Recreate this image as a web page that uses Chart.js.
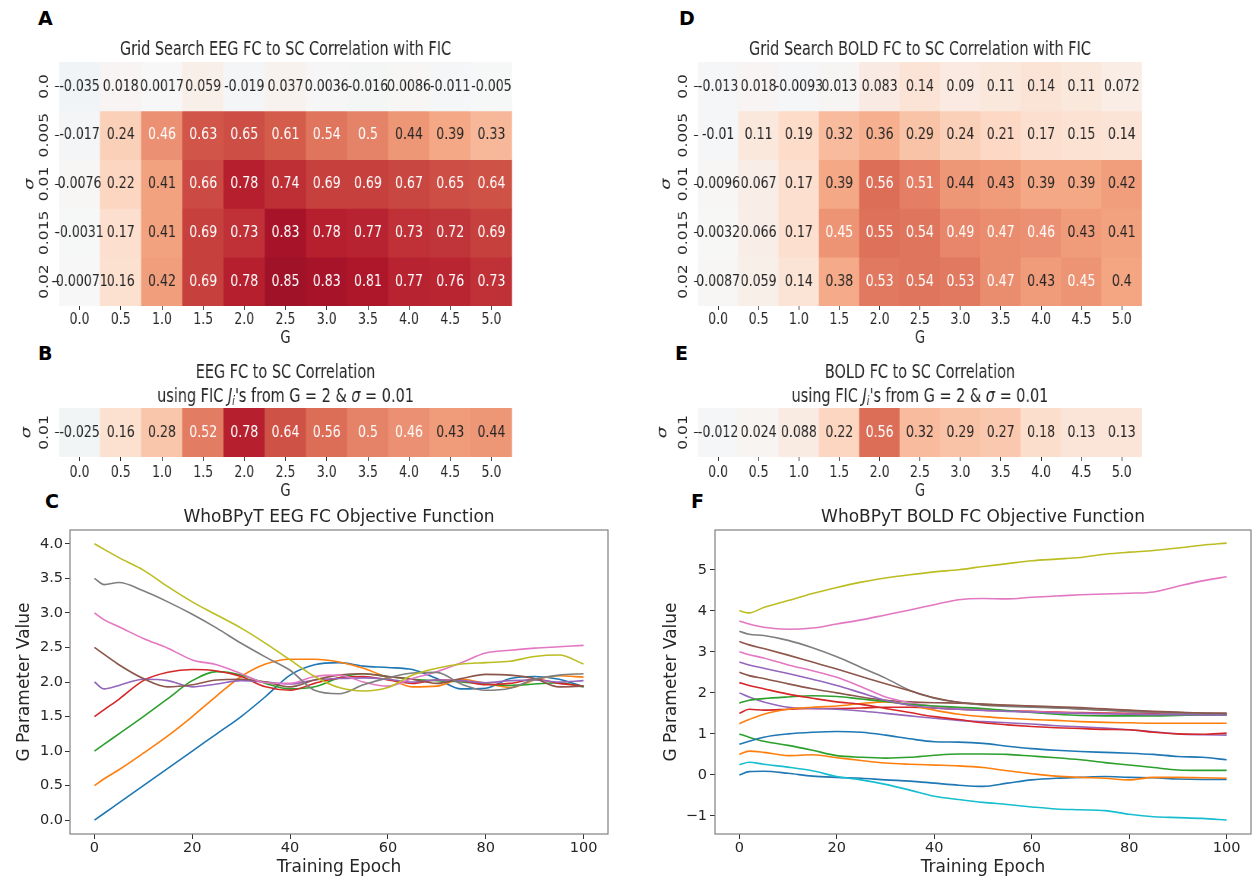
<!DOCTYPE html>
<html>
<head>
<meta charset="utf-8">
<title>WhoBPyT FIC grid search</title>
<script src="https://cdn.jsdelivr.net/npm/chart.js@4.4.1/dist/chart.umd.min.js"></script>
<style>
  html, body { margin: 0; padding: 0; background: #fff; }
  body { position: relative; width: 1254px; height: 878px; overflow: hidden; font-family: "DejaVu Sans", sans-serif; }
  canvas { position: absolute; }
  /* heatmap panels are drawn wide and squeezed horizontally */
  canvas.heat { transform: scaleX(0.76); transform-origin: 0 0; }
  .tag { position: absolute; font: bold 19px/19px "DejaVu Sans", sans-serif; color: #000; }
</style>
</head>
<body>
<div class="tag" style="left:38px;top:9px">A</div>
<div class="tag" style="left:38px;top:344px">B</div>
<div class="tag" style="left:45px;top:492px">C</div>
<div class="tag" style="left:679px;top:9px">D</div>
<div class="tag" style="left:675px;top:344px">E</div>
<div class="tag" style="left:691px;top:492px">F</div>

<canvas id="gridEeg" class="heat" width="816" height="324" style="left:0;top:28px"></canvas>
<canvas id="gridBold" class="heat" width="834" height="324" style="left:620px;top:28px"></canvas>
<canvas id="fixedEeg" class="heat" width="816" height="156" style="left:0;top:346px"></canvas>
<canvas id="fixedBold" class="heat" width="834" height="156" style="left:620px;top:346px"></canvas>
<canvas id="fitEeg" width="620" height="398" style="left:0;top:480px"></canvas>
<canvas id="fitBold" width="634" height="398" style="left:620px;top:480px"></canvas>

<script>
// ---- grid axes ----
const gValues = ['0.0', '0.5', '1.0', '1.5', '2.0', '2.5', '3.0', '3.5', '4.0', '4.5', '5.0'];
const sigmaGrid = ['0.0', '0.005', '0.01', '0.015', '0.02'];
const sigmaFixed = ['0.01'];

// EEG FC-SC correlation, one row per sigma
const eegS0 = [-0.035, 0.018, 0.0017, 0.059, -0.019, 0.037, 0.0036, -0.016, 0.0086, -0.011, -0.005];
const eegS005 = [-0.017, 0.24, 0.46, 0.63, 0.65, 0.61, 0.54, 0.5, 0.44, 0.39, 0.33];
const eegS01 = [0.0076, 0.22, 0.41, 0.66, 0.78, 0.74, 0.69, 0.69, 0.67, 0.65, 0.64];
const eegS015 = [-0.0031, 0.17, 0.41, 0.69, 0.73, 0.83, 0.78, 0.77, 0.73, 0.72, 0.69];
const eegS02 = [-0.00071, 0.16, 0.42, 0.69, 0.78, 0.85, 0.83, 0.81, 0.77, 0.76, 0.73];

// BOLD FC-SC correlation, one row per sigma
const boldS0 = [-0.013, 0.018, -0.0093, 0.013, 0.083, 0.14, 0.09, 0.11, 0.14, 0.11, 0.072];
const boldS005 = [-0.01, 0.11, 0.19, 0.32, 0.36, 0.29, 0.24, 0.21, 0.17, 0.15, 0.14];
const boldS01 = [0.0096, 0.067, 0.17, 0.39, 0.56, 0.51, 0.44, 0.43, 0.39, 0.39, 0.42];
const boldS015 = [0.0032, 0.066, 0.17, 0.45, 0.55, 0.54, 0.49, 0.47, 0.46, 0.43, 0.41];
const boldS02 = [0.0087, 0.059, 0.14, 0.38, 0.53, 0.54, 0.53, 0.47, 0.43, 0.45, 0.4];

// correlation with the J_i's fitted at G = 2, sigma = 0.01
const eegFixed = [-0.025, 0.16, 0.28, 0.52, 0.78, 0.64, 0.56, 0.5, 0.46, 0.43, 0.44];
const boldFixed = [-0.012, 0.024, 0.088, 0.22, 0.56, 0.32, 0.29, 0.27, 0.18, 0.13, 0.13];

// ---- G trajectories over training ----
const epochs = [0, 2, 5, 10, 15, 20, 25, 30, 35, 40, 45, 50, 55, 60, 65, 70, 75, 80, 85, 90, 95, 100];

const eegFit00 = [0, 0.1, 0.25, 0.5, 0.75, 1.0, 1.25, 1.5, 1.79, 2.1, 2.25, 2.28, 2.23, 2.21, 2.18, 2.05, 1.9, 1.91, 2.05, 2.08, 2.04, 1.93];
const eegFit05 = [0.5, 0.6, 0.73, 0.97, 1.22, 1.5, 1.8, 2.08, 2.26, 2.33, 2.33, 2.29, 2.2, 2.06, 1.93, 1.94, 2.04, 1.98, 1.92, 2.03, 2.09, 2.07];
const eegFit10 = [1.0, 1.1, 1.25, 1.5, 1.76, 2.02, 2.15, 2.1, 1.98, 1.9, 1.93, 2.06, 2.12, 2.08, 2.04, 2.02, 2.0, 1.97, 1.95, 1.97, 1.99, 1.93];
const eegFit15 = [1.5, 1.6, 1.75, 2.02, 2.14, 2.18, 2.16, 2.08, 1.93, 1.88, 1.98, 2.06, 2.08, 2.03, 1.98, 2.03, 2.02, 1.96, 1.98, 2.04, 1.98, 1.94];
const eegFit20 = [2.0, 1.9, 1.95, 2.04, 2.02, 1.93, 1.97, 2.02, 2.0, 1.97, 2.03, 2.05, 2.06, 2.04, 2.0, 2.03, 2.02, 1.99, 2.02, 2.03, 2.0, 2.02];
const eegFit25 = [2.5, 2.4, 2.25, 2.05, 1.93, 1.96, 2.03, 2.04, 2.0, 1.93, 2.03, 2.1, 2.12, 2.08, 2.04, 1.98, 2.05, 2.11, 2.1, 2.05, 1.93, 1.94];
const eegFit30 = [3.0, 2.9, 2.8, 2.63, 2.49, 2.32, 2.25, 2.12, 1.99, 1.98, 2.08, 2.1, 2.0, 1.94, 2.05, 2.15, 2.28, 2.42, 2.46, 2.49, 2.51, 2.53];
const eegFit35 = [3.5, 3.41, 3.44, 3.32, 3.16, 2.98, 2.78, 2.56, 2.36, 2.17, 1.88, 1.83, 1.96, 2.06, 2.13, 2.14, 1.97, 1.88, 1.91, 2.04, 2.1, 2.12];
const eegFit40 = [4.0, 3.92, 3.8, 3.62, 3.38, 3.16, 2.97, 2.78, 2.56, 2.32, 2.08, 1.92, 1.87, 1.92, 2.1, 2.2, 2.26, 2.28, 2.3, 2.37, 2.39, 2.26];

const boldFit000 = [0.0, 0.08, 0.09, 0.04, -0.03, -0.06, -0.08, -0.12, -0.15, -0.2, -0.25, -0.28, -0.2, -0.12, -0.08, -0.06, -0.04, -0.06, -0.07, -0.1, -0.11, -0.11];
const boldFit050 = [0.5, 0.58, 0.55, 0.47, 0.49, 0.42, 0.35, 0.29, 0.26, 0.24, 0.22, 0.18, 0.1, 0.03, -0.03, -0.06, -0.08, -0.12, -0.06, -0.06, -0.07, -0.08];
const boldFit100 = [1.0, 0.92, 0.82, 0.72, 0.6, 0.47, 0.43, 0.41, 0.43, 0.48, 0.51, 0.51, 0.5, 0.46, 0.42, 0.37, 0.3, 0.24, 0.18, 0.12, 0.11, 0.11];
const boldFit150 = [1.5, 1.6, 1.58, 1.6, 1.62, 1.62, 1.63, 1.65, 1.65, 1.63, 1.6, 1.58, 1.56, 1.55, 1.53, 1.52, 1.51, 1.5, 1.49, 1.48, 1.48, 1.47];
const boldFit200 = [2.0, 1.9, 1.78, 1.65, 1.62, 1.6, 1.56, 1.5, 1.44, 1.38, 1.33, 1.3, 1.27, 1.24, 1.2, 1.17, 1.14, 1.1, 1.05, 1.0, 0.98, 0.97];
const boldFit250 = [2.5, 2.42, 2.35, 2.22, 2.1, 2.0, 1.9, 1.82, 1.78, 1.76, 1.75, 1.73, 1.7, 1.67, 1.64, 1.61, 1.58, 1.55, 1.53, 1.51, 1.5, 1.5];
const boldFit300 = [3.0, 2.93, 2.85, 2.68, 2.54, 2.38, 2.15, 1.9, 1.76, 1.67, 1.62, 1.58, 1.56, 1.54, 1.52, 1.5, 1.49, 1.48, 1.47, 1.46, 1.46, 1.46];
const boldFit350 = [3.5, 3.43, 3.4, 3.28, 3.1, 2.88, 2.62, 2.36, 2.06, 1.87, 1.77, 1.7, 1.67, 1.65, 1.63, 1.61, 1.58, 1.55, 1.53, 1.51, 1.5, 1.49];
const boldFit400 = [4.0, 3.95, 4.08, 4.25, 4.42, 4.57, 4.7, 4.8, 4.88, 4.95, 5.0, 5.08, 5.15, 5.22, 5.26, 5.3, 5.38, 5.43, 5.47, 5.53, 5.6, 5.65];
const boldFit025 = [0.25, 0.31, 0.26, 0.19, 0.1, -0.04, -0.12, -0.23, -0.37, -0.52, -0.6, -0.67, -0.72, -0.78, -0.83, -0.85, -0.87, -0.96, -1.02, -1.04, -1.06, -1.1];
const boldFit075 = [0.75, 0.82, 0.92, 1.0, 1.04, 1.06, 1.04, 0.97, 0.88, 0.81, 0.8, 0.77, 0.7, 0.64, 0.6, 0.57, 0.55, 0.53, 0.5, 0.45, 0.43, 0.37];
const boldFit125 = [1.25, 1.35, 1.48, 1.6, 1.65, 1.68, 1.74, 1.78, 1.7, 1.58, 1.48, 1.42, 1.38, 1.35, 1.33, 1.3, 1.28, 1.27, 1.26, 1.26, 1.26, 1.26];
const boldFit175 = [1.75, 1.82, 1.86, 1.9, 1.93, 1.91, 1.85, 1.79, 1.72, 1.68, 1.65, 1.62, 1.57, 1.52, 1.48, 1.45, 1.44, 1.44, 1.44, 1.45, 1.46, 1.46];
const boldFit225 = [2.25, 2.18, 2.1, 1.97, 1.87, 1.78, 1.72, 1.62, 1.52, 1.42, 1.35, 1.27, 1.22, 1.18, 1.15, 1.13, 1.11, 1.1, 1.04, 1.0, 0.99, 1.02];
const boldFit275 = [2.75, 2.68, 2.6, 2.47, 2.33, 2.18, 2.0, 1.82, 1.7, 1.63, 1.6, 1.57, 1.55, 1.53, 1.51, 1.5, 1.49, 1.48, 1.47, 1.47, 1.46, 1.46];
const boldFit325 = [3.25, 3.17, 3.08, 2.92, 2.75, 2.58, 2.4, 2.22, 2.05, 1.88, 1.77, 1.72, 1.7, 1.68, 1.66, 1.64, 1.61, 1.58, 1.55, 1.53, 1.51, 1.5];
const boldFit375 = [3.75, 3.68, 3.6, 3.55, 3.58, 3.68, 3.78, 3.9, 4.02, 4.15, 4.27, 4.3, 4.29, 4.33, 4.36, 4.39, 4.41, 4.43, 4.46, 4.6, 4.73, 4.83];

const epochTicks = [0, 20, 40, 60, 80, 100];
const eegTicksY = [0, 0.5, 1, 1.5, 2, 2.5, 3, 3.5, 4];
const boldTicksY = [-1, 0, 1, 2, 3, 4, 5];

// ---- styling ----
const FONT = '"DejaVu Sans", sans-serif';
const INK = '#262626';
const TAB10 = ['#1f77b4', '#ff7f0e', '#2ca02c', '#d62728', '#9467bd', '#8c564b', '#e377c2', '#7f7f7f', '#bcbd22', '#17becf'];
const RDBU_R = ['#053061', '#2166ac', '#4393c3', '#92c5de', '#d1e5f0', '#f7f7f7', '#fddbc7', '#f4a582', '#d6604d', '#b2182b', '#67001f'];

function hexRgb(h) {
  return [1, 3, 5].map(i => parseInt(h.slice(i, i + 2), 16));
}

// diverging map, vmin -1 / vmax 1
function cellRgb(v) {
  const t = Math.min(1, Math.max(0, (v + 1) / 2)) * 10;
  const i = Math.min(9, Math.floor(t));
  const f = t - i;
  const a = hexRgb(RDBU_R[i]), b = hexRgb(RDBU_R[i + 1]);
  return a.map((c, k) => Math.round(c + (b[k] - c) * f));
}

function cellColor(v) {
  const [r, g, b] = cellRgb(v);
  return `rgb(${r},${g},${b})`;
}

// white text on dark cells, same rule as seaborn
function textColor(v) {
  const lin = cellRgb(v).map(c => {
    c /= 255;
    return c <= 0.03928 ? c / 12.92 : Math.pow((c + 0.055) / 1.055, 2.4);
  });
  const lum = 0.2126 * lin[0] + 0.7152 * lin[1] + 0.0722 * lin[2];
  return lum > 0.408 ? INK : '#ffffff';
}

const fmt2g = v => String(Number(v.toPrecision(2)));

// value written in the middle of every cell
function cellText(rows) {
  return {
    id: 'cellText',
    afterDatasetsDraw(chart) {
      const ctx = chart.ctx;
      ctx.save();
      ctx.font = `16.5px ${FONT}`;
      ctx.textAlign = 'center';
      ctx.textBaseline = 'middle';
      rows.forEach((vals, r) => {
        chart.getDatasetMeta(r).data.forEach((bar, c) => {
          ctx.fillStyle = textColor(vals[c]);
          ctx.fillText(fmt2g(vals[c]), bar.x, (bar.y + bar.base) / 2);
        });
      });
      ctx.restore();
    }
  };
}

// sigma tick labels, turned upright like the axis title
function sideTicks(labels, gap) {
  return {
    id: 'sideTicks',
    afterDraw(chart) {
      const ctx = chart.ctx, y = chart.scales.y;
      const x = chart.chartArea.left - gap;
      ctx.save();
      ctx.font = `15.5px ${FONT}`;
      ctx.fillStyle = INK;
      ctx.textAlign = 'center';
      ctx.textBaseline = 'middle';
      y.ticks.forEach((t, i) => {
        ctx.save();
        ctx.translate(x, y.getPixelForTick(i));
        ctx.rotate(-Math.PI / 2);
        ctx.fillText(labels[i], 0, 0);
        ctx.restore();
      });
      ctx.restore();
    }
  };
}

// two-line title with italic J_i and sigma
function richTitle(lines) {
  const segFont = s => `${s.it ? 'italic ' : ''}${s.sub ? 13 : 19}px ${FONT}`;
  return {
    id: 'richTitle',
    afterDraw(chart) {
      const { ctx, chartArea } = chart;
      const cx = (chartArea.left + chartArea.right) / 2;
      ctx.save();
      ctx.fillStyle = INK;
      ctx.textAlign = 'left';
      ctx.textBaseline = 'middle';
      lines.forEach((segs, li) => {
        const y = chartArea.top - 35 + li * 24;
        const widths = segs.map(s => { ctx.font = segFont(s); return ctx.measureText(s.t).width; });
        let x = cx - widths.reduce((a, b) => a + b, 0) / 2;
        segs.forEach((s, i) => {
          ctx.font = segFont(s);
          ctx.fillText(s.t, x, y + (s.sub ? 5 : 0));
          x += widths[i];
        });
      });
      ctx.restore();
    }
  };
}

function heatmap(id, rows, rowLabels, geo) {
  new Chart(document.getElementById(id), {
    type: 'bar',
    data: {
      labels: gValues,
      datasets: rows.map((vals, r) => ({
        data: vals.map(() => [r, r + 1]),
        backgroundColor: vals.map(cellColor),
        grouped: false,
        barPercentage: 1,
        categoryPercentage: 1,
        borderWidth: 0
      }))
    },
    options: {
      responsive: false,
      animation: false,
      events: [],
      layout: { padding: { top: geo.top, right: geo.right, left: 0, bottom: 0 } },
      plugins: {
        legend: { display: false },
        tooltip: { enabled: false },
        title: geo.title ? {
          display: true, text: geo.title, fullSize: false, color: INK,
          font: { family: FONT, size: 19, weight: 'normal', lineHeight: 1.2 },
          padding: { top: 10.6, bottom: 0.6 }
        } : { display: false }
      },
      scales: {
        x: {
          grid: { offset: false, drawOnChartArea: false, drawTicks: true, tickLength: 4, color: INK },
          border: { display: false },
          ticks: { color: INK, font: { family: FONT, size: 16.5, lineHeight: 1 }, padding: geo.tickPad, maxRotation: 0, autoSkip: false },
          title: { display: true, text: 'G', color: INK, font: { family: FONT, size: 17, lineHeight: 1 }, padding: { top: 0, bottom: geo.gPad } },
          afterFit: s => { s.height = geo.xh; }
        },
        y: {
          type: 'linear',
          min: 0,
          max: rows.length,
          reverse: true,
          afterBuildTicks: s => { s.ticks = rowLabels.map((_, i) => ({ value: i + 0.5 })); },
          grid: { drawOnChartArea: false, drawTicks: true, tickLength: 5.3, color: INK },
          border: { display: false },
          ticks: { display: false },
          title: { display: true, text: 'σ', color: INK, font: { family: FONT, size: 18, style: 'italic', lineHeight: 1 }, padding: { top: geo.sigmaPad, bottom: 0 } },
          afterFit: s => { s.width = geo.yw; }
        }
      }
    },
    plugins: [cellText(rows), sideTicks(rowLabels, 19.1)].concat(geo.rich ? [richTitle(geo.rich)] : [])
  });
}

// box around the line plots
const frame = {
  id: 'frame',
  afterDraw(chart) {
    const { ctx, chartArea: a } = chart;
    ctx.save();
    ctx.strokeStyle = '#808080';
    ctx.lineWidth = 1.2;
    ctx.strokeRect(a.left, a.top, a.right - a.left, a.bottom - a.top);
    ctx.restore();
  }
};

function fitChart(id, series, title, yMin, yMax, yTicks, yFmt, geo) {
  new Chart(document.getElementById(id), {
    type: 'line',
    data: {
      datasets: series.map((vals, i) => ({
        data: vals.map((v, j) => ({ x: epochs[j], y: v })),
        borderColor: TAB10[i % 10],
        borderWidth: 1.6,
        pointRadius: 0,
        cubicInterpolationMode: 'monotone',
        fill: false,
        order: series.length - i
      }))
    },
    options: {
      responsive: false,
      animation: false,
      events: [],
      layout: { padding: { top: 0, right: geo.right, left: 0, bottom: 0 } },
      plugins: {
        legend: { display: false },
        tooltip: { enabled: false },
        title: {
          display: true, text: title, fullSize: false, color: INK,
          font: { family: FONT, size: 17, weight: 'normal', lineHeight: 1.2 },
          padding: { top: 27.8, bottom: 1.8 }
        }
      },
      scales: {
        x: {
          type: 'linear',
          min: -5,
          max: 105,
          afterBuildTicks: s => { s.ticks = epochTicks.map(v => ({ value: v })); },
          grid: { drawOnChartArea: false, drawTicks: true, tickLength: 5, color: '#333' },
          border: { display: false },
          ticks: { color: INK, font: { family: FONT, size: 14.5, lineHeight: 1 }, padding: 1.5, maxRotation: 0, callback: v => String(v) },
          title: { display: true, text: 'Training Epoch', color: INK, font: { family: FONT, size: 17, lineHeight: 1 }, padding: { top: 0, bottom: 1.5 } },
          afterFit: s => { s.height = 44; }
        },
        y: {
          type: 'linear',
          min: yMin,
          max: yMax,
          afterBuildTicks: s => { s.ticks = yTicks.map(v => ({ value: v })); },
          grid: { drawOnChartArea: false, drawTicks: true, tickLength: 5, color: '#333' },
          border: { display: false },
          ticks: { color: INK, font: { family: FONT, size: 14.5, lineHeight: 1 }, padding: geo.tickPad, callback: yFmt },
          title: { display: true, text: 'G Parameter Value', color: INK, font: { family: FONT, size: 17, lineHeight: 1 }, padding: { top: geo.titlePad, bottom: 0 } },
          afterFit: s => { s.width = geo.yw; }
        }
      }
    },
    plugins: [frame]
  });
}

const fixedTitle = name => [
  [{ t: name + ' FC to SC Correlation' }],
  [{ t: 'using FIC ' }, { t: 'J', it: true }, { t: 'i', it: true, sub: true }, { t: "'s from G = 2 & " }, { t: 'σ', it: true }, { t: ' = 0.01' }]
];

heatmap('gridEeg', [eegS0, eegS005, eegS01, eegS015, eegS02], sigmaGrid,
  { title: 'Grid Search EEG FC to SC Correlation with FIC', top: 0, right: 142.3, yw: 77.63, xh: 46, tickPad: 1.75, gPad: 4.5, sigmaPad: 30.5 });
heatmap('gridBold', [boldS0, boldS005, boldS01, boldS015, boldS02], sigmaGrid,
  { title: 'Grid Search BOLD FC to SC Correlation with FIC', top: 0, right: 147.2, yw: 102.63, xh: 46, tickPad: 1.75, gPad: 4.5, sigmaPad: 52.8 });
heatmap('fixedEeg', [eegFixed], sigmaFixed,
  { rich: fixedTitle('EEG'), top: 62, right: 142.3, yw: 77.63, xh: 45, tickPad: 3.75, gPad: 1.5, sigmaPad: 26.5 });
heatmap('fixedBold', [boldFixed], sigmaFixed,
  { rich: fixedTitle('BOLD'), top: 62, right: 147.2, yw: 102.63, xh: 45, tickPad: 3.75, gPad: 1.5, sigmaPad: 47.6 });

fitChart('fitEeg',
  [eegFit00, eegFit05, eegFit10, eegFit15, eegFit20, eegFit25, eegFit30, eegFit35, eegFit40],
  'WhoBPyT EEG FC Objective Function', -0.2, 4.2, eegTicksY, v => v.toFixed(1),
  { right: 12, yw: 70, tickPad: 2, titlePad: 16.5 });

fitChart('fitBold',
  [boldFit000, boldFit050, boldFit100, boldFit150, boldFit200, boldFit250, boldFit300, boldFit350, boldFit400,
   boldFit025, boldFit075, boldFit125, boldFit175, boldFit225, boldFit275, boldFit325, boldFit375],
  'WhoBPyT BOLD FC Objective Function', -1.44, 5.97, boldTicksY, v => (v < 0 ? '\u2212' + Math.abs(v) : String(v)),
  { right: 3, yw: 95, tickPad: 3, titlePad: 43.5 });
</script>
</body>
</html>
